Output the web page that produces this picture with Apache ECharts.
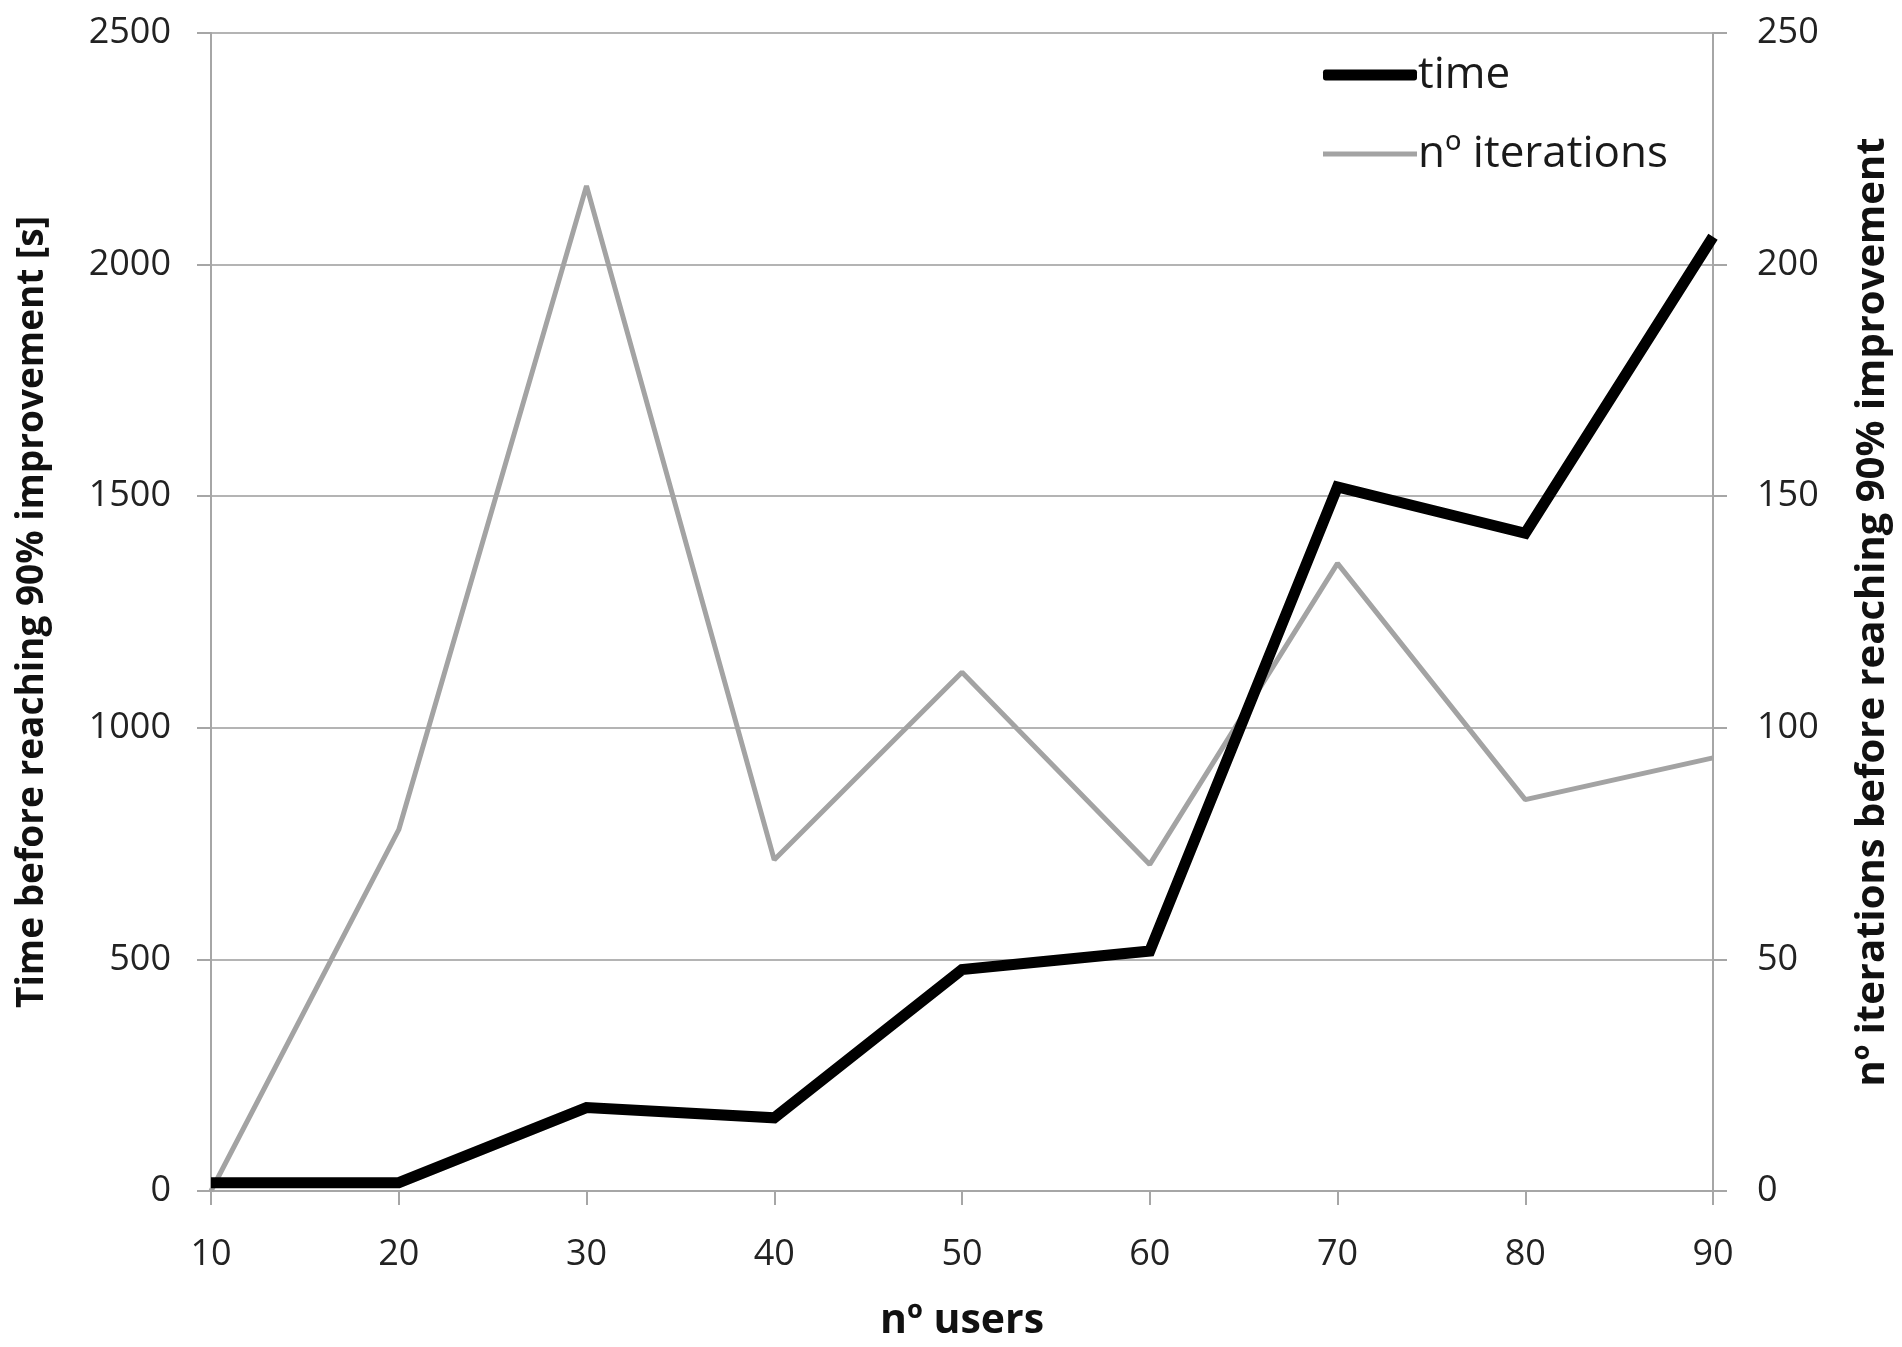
<!DOCTYPE html>
<html><head><meta charset="utf-8">
<script src="https://cdn.jsdelivr.net/npm/echarts@6/dist/echarts.min.js"></script>
<style>html,body{margin:0;padding:0;background:#fff}#c{width:1902px;height:1347px}</style>
</head><body><div id="c"></div>
<script>
const users = ['10','20','30','40','50','60','70','80','90'];
const timeValues = [18, 18, 180, 158, 478, 518, 1520, 1420, 2060];
const iterationValues = [0, 78, 217, 71.5, 112, 70.5, 135.5, 84.5, 93.5];
const leftTicks = [0, 500, 1000, 1500, 2000, 2500];
const rightTicks = [0, 50, 100, 150, 200, 250];

const FONT = '"Open Sans", "Liberation Sans", sans-serif';
const chart = echarts.init(document.getElementById('c'), null, {renderer: 'canvas'});
const axisGray = '#a6a6a6';
const plain = v => String(v);
chart.setOption({
  backgroundColor: '#ffffff',
  animation: false,
  grid: {left: 211, right: 189, top: 33, bottom: 152, containLabel: false},
  legend: [
    {data: ['time'], left: 1318, top: 48, icon: 'roundRect', itemWidth: 94, itemHeight: 11,
     textStyle: {fontFamily: FONT, fontSize: 44, color: '#1a1a1a', padding: [0,0,0,-4]}},
    {data: ['nº iterations'], left: 1318, top: 127, icon: 'rect', itemWidth: 94, itemHeight: 5,
     textStyle: {fontFamily: FONT, fontSize: 44, color: '#1a1a1a', padding: [0,0,0,-4]}}
  ],
  xAxis: {
    type: 'category', data: users, boundaryGap: false,
    name: 'nº users', nameLocation: 'middle', nameGap: 110,
    nameTextStyle: {fontFamily: FONT, fontSize: 41, fontWeight: 'bold', color: '#111'},
    axisLine: {lineStyle: {color: axisGray, width: 2}},
    axisTick: {show: true, alignWithLabel: true, length: 14, lineStyle: {color: axisGray, width: 2}},
    axisLabel: {fontFamily: FONT, fontSize: 36, color: '#222', margin: 46},
    splitLine: {show: false}
  },
  yAxis: [
    {type: 'value', min: leftTicks[0], max: leftTicks[leftTicks.length-1], interval: 500, position: 'left',
     name: 'Time before reaching 90% improvement [s]', nameLocation: 'middle', nameGap: 160, nameRotate: 90,
     nameTextStyle: {fontFamily: FONT, fontSize: 37, fontWeight: 'bold', color: '#111'},
     axisLine: {show: true, lineStyle: {color: axisGray, width: 2}},
     axisTick: {show: true, length: 14, lineStyle: {color: axisGray, width: 2}},
     axisLabel: {fontFamily: FONT, fontSize: 36, color: '#222', margin: 40, formatter: plain},
     splitLine: {show: true, lineStyle: {color: '#b4b4b4', width: 2}}},
    {type: 'value', min: rightTicks[0], max: rightTicks[rightTicks.length-1], interval: 50, position: 'right',
     name: 'nº iterations before reaching 90% improvement', nameLocation: 'middle', nameGap: 140, nameRotate: 90,
     nameTextStyle: {fontFamily: FONT, fontSize: 40, fontWeight: 'bold', color: '#111'},
     axisLine: {show: true, lineStyle: {color: axisGray, width: 2}},
     axisTick: {show: true, length: 14, lineStyle: {color: axisGray, width: 2}},
     axisLabel: {fontFamily: FONT, fontSize: 36, color: '#222', margin: 44, formatter: plain},
     splitLine: {show: false}}
  ],
  series: [
    {name: 'nº iterations', type: 'line', yAxisIndex: 1, data: iterationValues, showSymbol: false,
     color: '#a3a3a3', lineStyle: {color: '#a3a3a3', width: 5}, z: 2},
    {name: 'time', type: 'line', yAxisIndex: 0, data: timeValues, showSymbol: false,
     color: '#000000', lineStyle: {color: '#000000', width: 11, join: 'miter'}, z: 3}
  ]
});
</script></body></html>
